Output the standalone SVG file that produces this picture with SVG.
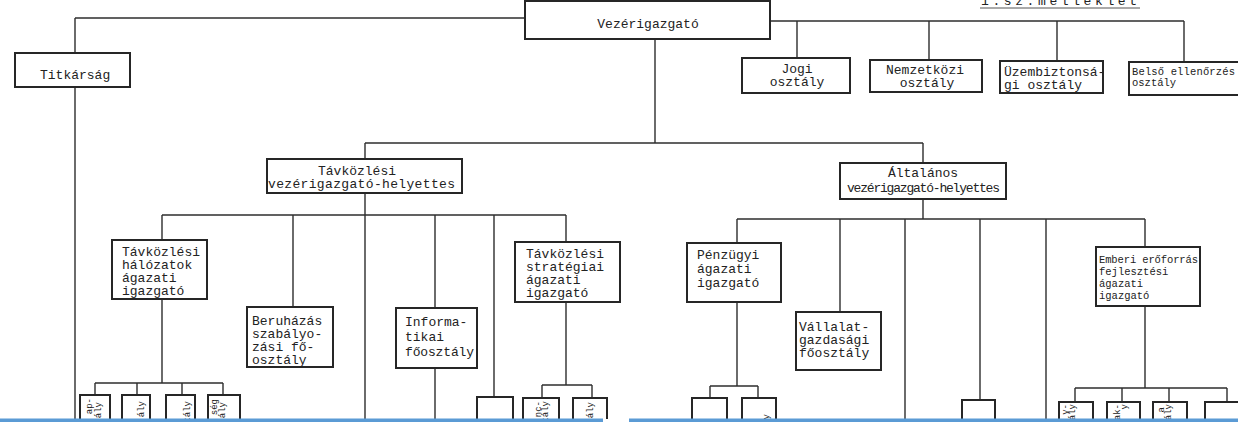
<svg xmlns="http://www.w3.org/2000/svg" width="1238" height="422" viewBox="0 0 1238 422">
<style>
.box{fill:#fff;stroke:#262626;stroke-width:2}
.ln{stroke:#2e2e2e;stroke-width:1.4;fill:none}
.t{font-family:"Liberation Mono","DejaVu Sans Mono",monospace;fill:#222;font-size:13px}
.s{font-size:10.5px}
.r{font-size:9px}
.m{text-anchor:middle}
</style>
<rect width="1238" height="422" fill="#fff"/>
<g id="connectors">
<path class="ln" d="M75,18H525 M75,18V53 M75,87V422"/>
<path class="ln" d="M770,21H1184 M797,21V58 M929,21V60 M1057,21V61 M1184,21V62"/>
<path class="ln" d="M655,39V143 M365,143H923 M365,143V159 M923,143V163"/>
<path class="ln" d="M365,193V422 M162,215H566 M162,215V240 M293,215V307 M435,215V308 M435,368V422 M494,215V397 M566,215V242"/>
<path class="ln" d="M162,299V383 M95,383H223 M95,383V395 M137,383V395 M182,383V395 M223,383V395"/>
<path class="ln" d="M566,302V385 M542,385H592 M542,385V398 M592,385V398"/>
<path class="ln" d="M923,199V219 M737,219H1145 M737,219V243 M840,219V312 M905,219V422 M980,219V400 M1046,219V422 M1145,219V247"/>
<path class="ln" d="M737,302V386 M710,386H758 M710,386V398 M758,386V398"/>
<path class="ln" d="M1145,306V388 M1075,388H1227 M1075,388V402 M1122,388V402 M1169,388V402 M1227,388V402"/>
</g>
<g id="annex">
<text class="t" x="981" y="5" textLength="156">1.sz.melléklet</text>
<path d="M980,8H1140" stroke="#555" stroke-width="1"/>
</g>
<g id="vezerigazgato">
<rect class="box" x="525" y="1" width="245" height="38"/>
<text class="t m" x="648" y="28">Vezérigazgató</text>
</g>
<g id="titkarsag">
<rect class="box" x="15" y="53" width="115" height="34"/>
<text class="t" x="40" y="79" font-size="10">Titkárság</text>
</g>
<g id="jogi">
<rect class="box" x="742" y="58" width="108" height="35"/>
<text class="t m" x="797" y="73">Jogi</text>
<text class="t m" x="797" y="86">osztály</text>
</g>
<g id="nemzetkozi">
<rect class="box" x="870" y="60" width="112" height="32"/>
<text class="t m" x="925" y="74">Nemzetközi</text>
<text class="t m" x="927" y="87">osztály</text>
</g>
<g id="uzembiztonsagi">
<rect class="box" x="1000" y="61" width="103" height="32"/>
<text class="t" x="1004" y="76" font-size="12.6">Üzembiztonsá-</text>
<text class="t" x="1004" y="89" font-size="12.6">gi osztály</text>
</g>
<g id="belso">
<rect class="box" x="1129" y="62" width="112" height="33"/>
<text class="t s" x="1132" y="75" textLength="103">Belső ellenőrzés</text>
<text class="t s" x="1132" y="86">osztály</text>
</g>
<g id="tavkozlesi-helyettes">
<rect class="box" x="267" y="159" width="195" height="34"/>
<text class="t m" x="357" y="175" font-size="13.5">Távközlési</text>
<text class="t" x="268" y="188" font-size="13.5" textLength="187">vezérigazgató-helyettes</text>
</g>
<g id="altalanos-helyettes">
<rect class="box" x="840" y="163" width="166" height="36"/>
<text class="t m" x="923" y="177" font-size="11.5">Általános</text>
<text class="t" x="847" y="192" font-size="11.5" textLength="153">vezérigazgató-helyettes</text>
</g>
<g id="halozatok">
<rect class="box" x="112" y="240" width="95" height="59"/>
<text class="t" x="122" y="256">Távközlési</text>
<text class="t" x="122" y="269">hálózatok</text>
<text class="t" x="122" y="282">ágazati</text>
<text class="t" x="122" y="295">igazgató</text>
</g>
<g id="beruhazas">
<rect class="box" x="247" y="307" width="86" height="60"/>
<text class="t" x="252" y="325" font-size="13.5">Beruházás</text>
<text class="t" x="252" y="338" font-size="13.5">szabályo-</text>
<text class="t" x="252" y="351" font-size="13.5">zási fő-</text>
<text class="t" x="252" y="364" font-size="13.5">osztály</text>
</g>
<g id="informatikai">
<rect class="box" x="396" y="308" width="81" height="60"/>
<text class="t" x="405" y="326">Informa-</text>
<text class="t" x="405" y="341">tikai</text>
<text class="t" x="405" y="356" textLength="69">főosztály</text>
</g>
<g id="strategiai">
<rect class="box" x="515" y="242" width="105" height="60"/>
<text class="t" x="526" y="258" font-size="13.5">Távközlési</text>
<text class="t" x="526" y="271" font-size="13.5">stratégiai</text>
<text class="t" x="526" y="284" font-size="13.5">ágazati</text>
<text class="t" x="526" y="297" font-size="13.5">igazgató</text>
</g>
<g id="penzugyi">
<rect class="box" x="687" y="243" width="94" height="59"/>
<text class="t" x="697" y="259" font-size="11.5">Pénzügyi</text>
<text class="t" x="697" y="273" font-size="11.5">ágazati</text>
<text class="t" x="697" y="287" font-size="11.5">igazgató</text>
</g>
<g id="vallalatgazdasagi">
<rect class="box" x="796" y="312" width="85" height="58"/>
<text class="t" x="799" y="331" font-size="13.5">Vállalat-</text>
<text class="t" x="799" y="344" font-size="13.5">gazdasági</text>
<text class="t" x="799" y="357" font-size="13.5">főosztály</text>
</g>
<g id="emberi">
<rect class="box" x="1096" y="247" width="104" height="59"/>
<text class="t s" x="1099" y="263" font-size="10" textLength="99">Emberi erőforrás</text>
<text class="t s" x="1099" y="275" font-size="10">fejlesztési</text>
<text class="t s" x="1099" y="287" font-size="10">ágazati</text>
<text class="t s" x="1099" y="299" font-size="10">igazgató</text>
</g>
<g id="bottom-boxes">
<rect class="box" x="80" y="395" width="30" height="35"/>
<text class="t r" text-anchor="end" transform="translate(92,398) rotate(-90)">ap-</text>
<text class="t r" text-anchor="end" transform="translate(101,402) rotate(-90)">ály</text>
<rect class="box" x="122" y="395" width="28" height="35"/>
<text class="t r" text-anchor="end" transform="translate(144,401) rotate(-90)">ály</text>
<rect class="box" x="166" y="395" width="29" height="35"/>
<text class="t r" text-anchor="end" transform="translate(190,401) rotate(-90)">tály</text>
<rect class="box" x="208" y="395" width="32" height="35"/>
<text class="t r" text-anchor="end" transform="translate(217,399) rotate(-90)">ség</text>
<text class="t r" text-anchor="end" transform="translate(225,402) rotate(-90)">ály</text>
<rect class="box" x="477" y="397" width="36" height="35"/>
<rect class="box" x="523" y="398" width="36" height="35"/>
<text class="t r" text-anchor="end" transform="translate(541,401) rotate(-90)">nc-</text>
<text class="t r" text-anchor="end" font-size="8" transform="translate(548,401) rotate(-90)">tály</text>
<rect class="box" x="573" y="398" width="34" height="35"/>
<text class="t r" text-anchor="end" transform="translate(593,402) rotate(-90)">ály</text>
<rect class="box" x="692" y="398" width="35" height="35"/>
<rect class="box" x="742" y="398" width="34" height="35"/>
<text class="t r" text-anchor="end" transform="translate(769,414) rotate(-90)">y</text>
<rect class="box" x="962" y="400" width="33" height="35"/>
<rect class="box" x="1059" y="402" width="34" height="35"/>
<text class="t r" font-size="8" text-anchor="end" transform="translate(1068,404) rotate(-90)">y-</text>
<text class="t r" font-size="8" text-anchor="end" transform="translate(1075,404) rotate(-90)">ály</text>
<rect class="box" x="1107" y="402" width="33" height="35"/>
<text class="t r" font-size="8" text-anchor="end" transform="translate(1120,404) rotate(-90)">ak-</text>
<text class="t r" font-size="8" text-anchor="end" transform="translate(1127,404) rotate(-90)">y</text>
<rect class="box" x="1153" y="402" width="34" height="35"/>
<text class="t r" font-size="8" text-anchor="end" transform="translate(1164,407) rotate(-90)">a</text>
<text class="t r" font-size="8" text-anchor="end" transform="translate(1171,404) rotate(-90)">ály</text>
<rect class="box" x="1205" y="402" width="40" height="35"/>
</g>
<g id="frame">
<rect x="0" y="419" width="1238" height="3" fill="#fff"/>
<rect x="0" y="418.5" width="603" height="3.5" fill="#5b9bd5"/>
<rect x="629" y="418.5" width="609" height="3.5" fill="#5b9bd5"/>
</g>
</svg>
